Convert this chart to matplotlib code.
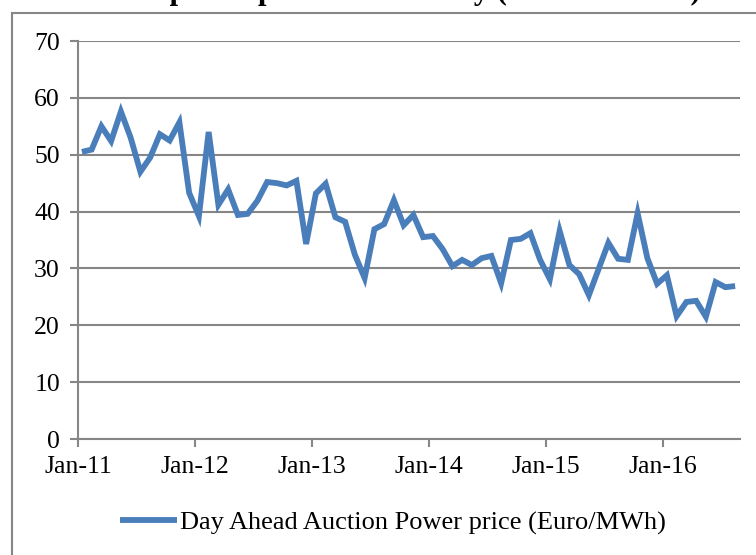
import matplotlib
matplotlib.use("Agg")
import matplotlib.pyplot as plt
from matplotlib.patches import Rectangle

# Monthly Day Ahead Auction power price (Euro/MWh), Jan-11 .. Aug-16
prices = [50.5, 50.9, 55.0, 52.4, 57.6, 53.0, 47.0, 49.5, 53.6, 52.5, 55.7, 43.3,
          39.2, 54.0, 41.2, 43.9, 39.4, 39.6, 41.9, 45.2, 45.0, 44.6, 45.4, 34.3,
          43.2, 44.9, 39.0, 38.2, 32.4, 28.3, 36.9, 37.8, 42.0, 37.6, 39.4, 35.5,
          35.7, 33.4, 30.4, 31.5, 30.6, 31.8, 32.2, 27.4, 35.0, 35.2, 36.2, 31.5,
          28.1, 36.6, 30.6, 29.0, 25.3, 29.9, 34.5, 31.7, 31.5, 39.7, 31.8, 27.3,
          28.8, 21.6, 24.1, 24.3, 21.5, 27.6, 26.7, 26.9]
tick_labels = ["Jan-11", "Jan-12", "Jan-13", "Jan-14", "Jan-15", "Jan-16"]
y_ticks = [0, 10, 20, 30, 40, 50, 60, 70]
series_name = "Day Ahead Auction Power price (Euro/MWh)"
title_text = "Wholesale power price in Germany (in Euro/MWh)"

W, H = 756, 555
fig = plt.figure(figsize=(W / 100, H / 100), dpi=100)
plt.rcParams['font.family'] = ['Liberation Serif', 'DejaVu Serif']

grid_c = "#868686"
line_c = "#4A7EBB"

# outer chart border (extends beyond the image on right and bottom)
fig.patches.append(Rectangle((12 / W, -0.2), 2.0, 1 - 13 / H + 0.2,
                             transform=fig.transFigure, fill=False,
                             edgecolor=grid_c, lw=1.5, zorder=0))

# title, cut off at the top of the image (only descenders visible)
fig.text(28 / W, 1 + 1.5 / H, title_text, fontsize=22, fontweight='bold',
         va='baseline', ha='left')

ax = fig.add_axes([78 / W, 1 - 439 / H, 662 / W, 398 / H])
x = list(range(len(prices)))
ax.plot(x, prices, color=line_c, lw=4.2, solid_joinstyle='miter',
        solid_capstyle='butt', label=series_name, clip_on=False, zorder=3)

ax.set_ylim(0, 70)
ax.set_xlim(-0.4, 67.5)
ax.set_yticks(y_ticks)
ax.set_yticklabels([str(v) for v in y_ticks])
ax.set_xticks([12 * k - 0.4 for k in range(len(tick_labels))])
ax.set_xticklabels(tick_labels)
ax.grid(axis='y', color=grid_c, lw=1.5)
ax.set_axisbelow(True)
for s in ['top', 'right']:
    ax.spines[s].set_visible(False)
for s in ['left', 'bottom']:
    ax.spines[s].set_color(grid_c)
    ax.spines[s].set_linewidth(1.5)
ax.tick_params(axis='both', colors=grid_c, length=6, width=1.5,
               labelcolor='black', labelsize=18.5)
ax.tick_params(axis='y', pad=7)
ax.tick_params(axis='x', pad=6)

leg = fig.legend(loc='center', bbox_to_anchor=(393 / W, 1 - 523 / H),
                 frameon=False, fontsize=19, handlelength=2.15,
                 handletextpad=0.12)

fig.savefig("out.png", dpi=100)
